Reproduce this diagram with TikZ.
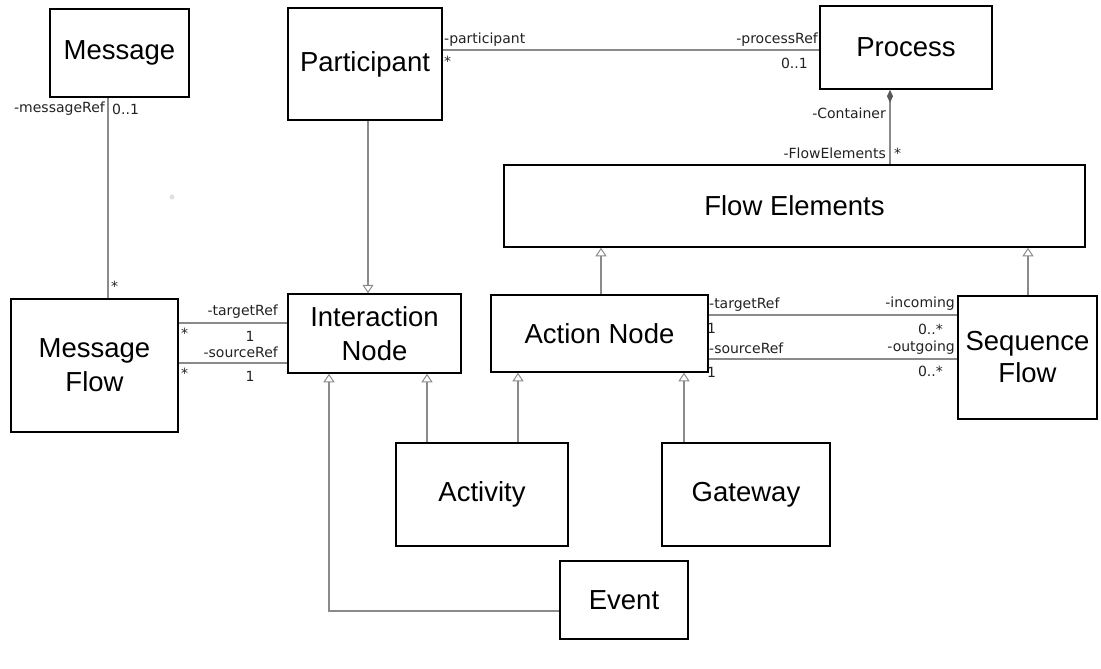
\documentclass[tikz,border=0pt]{standalone}
\usepackage{fontspec}
\setmainfont{Liberation Sans}
\newfontfamily\lblfont{DejaVu Sans}
\usetikzlibrary{arrows.meta}
\definecolor{linegray}{HTML}{8A8A8A}
\definecolor{lbltext}{HTML}{222222}
\tikzset{
  box/.style={draw=black, line width=1.5pt, fill=white, align=center, inner sep=0pt,
    font=\fontsize{27.5}{34}\selectfont},
  conn/.style={draw=linegray, line width=1.3pt},
  gen/.style={conn, -{Triangle[open, width=11pt, length=8.5pt, line width=1pt]}},
  comp/.style={conn, {Diamond[width=6pt, length=13pt, color=black!65, fill=black!65]}-},
  lbl/.style={inner sep=0pt, text=lbltext, font=\lblfont\fontsize{14}{15}\selectfont}
}
\begin{document}
\begin{tikzpicture}[x=1pt,y=-1pt]
\useasboundingbox (0,0) rectangle (1101,669);
% boxes
\node[box, minimum width=139pt, minimum height=88pt] (msg) at (119.5,53) {Message};
\node[box, minimum width=154pt, minimum height=112pt] (part) at (365,64) {Participant};
\node[box, minimum width=172pt, minimum height=83pt] (proc) at (906,47.5) {Process};
\node[box, minimum width=581pt, minimum height=82pt] (fe) at (794.5,206) {Flow Elements};
\node[box, minimum width=167pt, minimum height=133pt] (mf) at (94.5,365.5) {Message\\Flow};
\node[box, minimum width=173pt, minimum height=79pt] (in) at (374.5,333.5) {Interaction\\Node};
\node[box, minimum width=217pt, minimum height=77pt] (an) at (599.5,333.5) {Action Node};
\node[box, minimum width=139pt, minimum height=123pt, font=\fontsize{27.5}{32}\selectfont] (sf) at (1027.5,357.5) {Sequence\\Flow};
\node[box, minimum width=172pt, minimum height=103pt] (act) at (482,494.5) {Activity};
\node[box, minimum width=168pt, minimum height=103pt] (gw) at (746,494.5) {Gateway};
\node[box, minimum width=128pt, minimum height=78pt] (ev) at (624,600) {Event};
% faint dot
\fill[black!12] (172,197) circle (2.5pt);
% helper coordinates
\coordinate (xm) at (108,0);
\coordinate (xp) at (368,0);
\coordinate (xc) at (890,0);
\coordinate (xa) at (601,0);
\coordinate (xs) at (1028,0);
\coordinate (xi1) at (427,0);
\coordinate (xa1) at (518,0);
\coordinate (xg) at (684,0);
\coordinate (xe) at (329,0);
\coordinate (y1) at (0,50);
\coordinate (y2) at (0,323);
\coordinate (y3) at (0,363);
\coordinate (y4) at (0,315);
\coordinate (y5) at (0,359);
\coordinate (y6) at (0,611);
% connectors
\draw[conn] (msg.south -| xm) -- (mf.north -| xm);
\draw[conn] (part.east |- y1) -- (proc.west |- y1);
\draw[gen] (part.south -| xp) -- (in.north -| xp);
\draw[comp] (proc.south -| xc) -- (fe.north -| xc);
\draw[conn] (mf.east |- y2) -- (in.west |- y2);
\draw[conn] (mf.east |- y3) -- (in.west |- y3);
\draw[gen] (an.north -| xa) -- (fe.south -| xa);
\draw[gen] (sf.north -| xs) -- (fe.south -| xs);
\draw[conn] (an.east |- y4) -- (sf.west |- y4);
\draw[conn] (an.east |- y5) -- (sf.west |- y5);
\draw[gen] (act.north -| xi1) -- (in.south -| xi1);
\draw[gen] (act.north -| xa1) -- (an.south -| xa1);
\draw[gen] (gw.north -| xg) -- (an.south -| xg);
\draw[gen] (ev.west |- y6) -| (in.south -| xe);
% labels
\node[lbl, anchor=east] (l1) at (105,109) {-messageRef};
\node[lbl, anchor=west] (l2) at (112,109) {0..1};
\node[lbl, anchor=west] (l3) at (111,286) {*};
\node[lbl, anchor=west] (l4) at (444,40) {-participant};
\node[lbl, anchor=west] (l5) at (444,61) {*};
\node[lbl, anchor=east] (l6) at (818,40) {-processRef};
\node[lbl, anchor=east] (l7) at (808,63) {0..1};
\node[lbl, anchor=east] (l8) at (886,113) {-Container};
\node[lbl, anchor=east] (l9) at (886,153) {-FlowElements};
\node[lbl, anchor=west] (l10) at (894,153) {*};
\node[lbl, anchor=east] (l11) at (278,312) {-targetRef};
\node[lbl] (l12) at (250,336) {1};
\node[lbl, anchor=west] (l13) at (181,333) {*};
\node[lbl, anchor=east] (l14) at (278,352) {-sourceRef};
\node[lbl] (l15) at (250,376) {1};
\node[lbl, anchor=west] (l16) at (181,373) {*};
\node[lbl, anchor=west] (l17) at (709,305) {-targetRef};
\node[lbl, anchor=west] (l18) at (707,328) {1};
\node[lbl, anchor=west] (l19) at (709,348) {-sourceRef};
\node[lbl, anchor=west] (l20) at (707,372) {1};
\node[lbl, anchor=east] (l21) at (955,304) {-incoming};
\node[lbl, anchor=east] (l22) at (943,329) {0..*};
\node[lbl, anchor=east] (l23) at (955,348) {-outgoing};
\node[lbl, anchor=east] (l24) at (943,371) {0..*};
\end{tikzpicture}
\end{document}
